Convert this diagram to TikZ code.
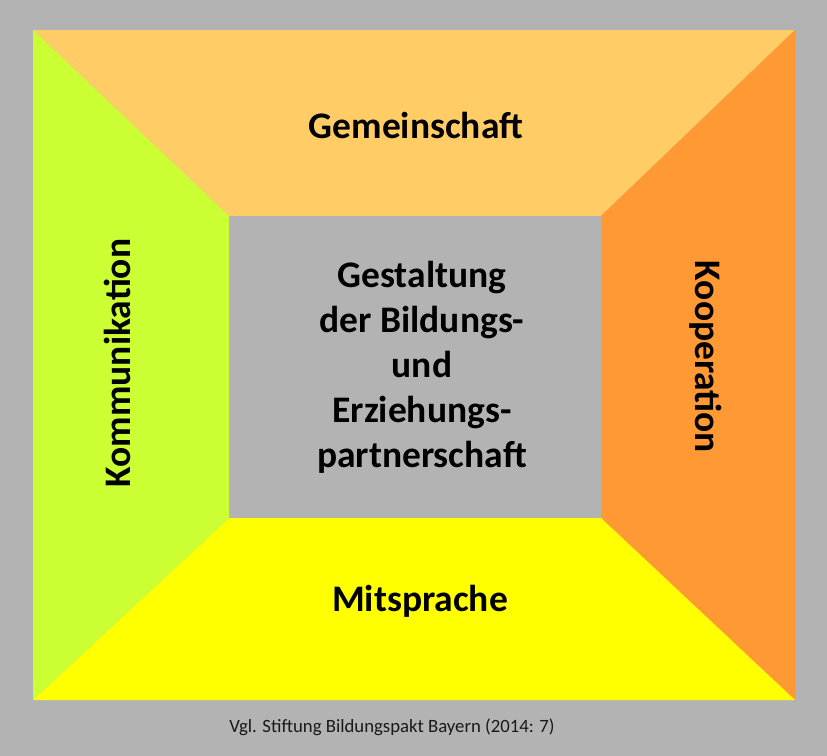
\documentclass[tikz,border=0pt]{standalone}
\usepackage{fontspec}
\setmainfont{Carlito}
\usepackage{xcolor}
\usetikzlibrary{positioning}
\definecolor{bggray}{RGB}{179,179,179}
\definecolor{topcol}{RGB}{255,204,102}
\definecolor{leftcol}{RGB}{204,255,51}
\definecolor{rightcol}{RGB}{255,153,51}
\definecolor{bottomcol}{RGB}{255,255,0}

\begin{document}
\begin{tikzpicture}[
    x=0.03cm, y=-0.03cm,
    side/.style={font=\fontsize{32}{38.4}\selectfont\bfseries, align=center},
    note/.style={font=\fontsize{16}{19}\selectfont, text=black!90}
  ]
  \fill[bggray] (0,0) rectangle (827,756);
  \useasboundingbox (0,0) rectangle (827,756);

  % corners of the frame
  \coordinate (o1) at (33,30);
  \coordinate (o2) at (795,30);
  \coordinate (o3) at (795,700);
  \coordinate (o4) at (33,700);
  \coordinate (i1) at (229,216);
  \coordinate (i2) at (601,216);
  \coordinate (i3) at (601,518);
  \coordinate (i4) at (229,518);

  \fill[topcol]    (o1) -- (o2) -- (i2) -- (i1) -- cycle;
  \fill[rightcol]  (o2) -- (o3) -- (i3) -- (i2) -- cycle;
  \fill[bottomcol] (o3) -- (o4) -- (i4) -- (i3) -- cycle;
  \fill[leftcol]   (o4) -- (o1) -- (i1) -- (i4) -- cycle;
  \fill[bggray]    (i1) rectangle (i3);

  \node[side] (gem) at (416,125) {Gemeinschaft};
  \node[side] (mit) at (420,601) {Mitsprache};
  \node[side, rotate=90]  (kom) at (117,363) {Kommunikation};
  \node[side, rotate=-90] (koo) at (706,357) {Kooperation};
  \node[side] (ges) at (422,367) {Gestaltung\\der Bildungs-\\und\\Erziehungs-\\partnerschaft};

  \node[note] (src) at (392,727) {Vgl. Stiftung Bildungspakt Bayern (2014: 7)};
\end{tikzpicture}
\end{document}
